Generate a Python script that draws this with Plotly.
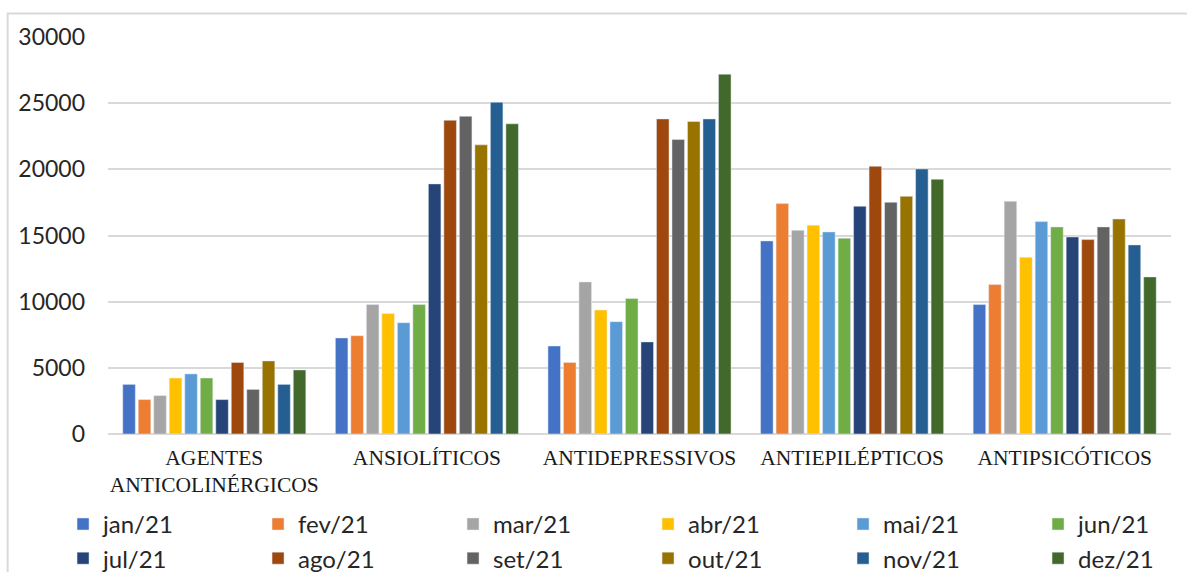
import plotly.graph_objects as go

categories = ["AGENTES<br>ANTICOLINÉRGICOS", "ANSIOLÍTICOS", "ANTIDEPRESSIVOS",
              "ANTIEPILÉPTICOS", "ANTIPSICÓTICOS"]
months = ["jan/21", "fev/21", "mar/21", "abr/21", "mai/21", "jun/21",
          "jul/21", "ago/21", "set/21", "out/21", "nov/21", "dez/21"]
colors = ["#4472C4", "#ED7D31", "#A5A5A5", "#FFC000", "#5B9BD5", "#70AD47",
          "#264478", "#9E480E", "#636363", "#997300", "#255E91", "#43682B"]

# values per month, in category order
jan = [3750, 7260, 6650, 14590, 9780]
fev = [2600, 7430, 5410, 17410, 11290]
mar = [2900, 9780, 11490, 15390, 17590]
abr = [4230, 9100, 9370, 15770, 13350]
mai = [4540, 8410, 8490, 15270, 16050]
jun = [4230, 9780, 10230, 14790, 15650]
jul = [2600, 18900, 6960, 17210, 14890]
ago = [5410, 23710, 23810, 20230, 14690]
set_ = [3370, 24010, 22250, 17510, 15650]
out = [5520, 21850, 23610, 17960, 16250]
nov = [3750, 25070, 23810, 20030, 14290]
dez = [4840, 23440, 27190, 19250, 11870]

series = [jan, fev, mar, abr, mai, jun, jul, ago, set_, out, nov, dez]

fig = go.Figure()
for name, vals, col in zip(months, series, colors):
    fig.add_trace(go.Bar(x=categories, y=vals, name=name, marker_color=col))

fig.update_layout(
    width=1187, height=572,
    paper_bgcolor="white", plot_bgcolor="white",
    margin=dict(l=108, r=16, t=37, b=138, autoexpand=False),
    barmode="group", bargap=0.125, bargroupgap=0.19,
    font=dict(family="Lato", color="#404040"),
    showlegend=True,
    legend=dict(orientation="h", x=-0.0423, xanchor="left",
                y=-0.171, yanchor="top",
                entrywidth=150, entrywidthmode="pixels", tracegroupgap=0,
                font=dict(family="Lato", size=24, color="#262626"),
                itemwidth=30, traceorder="normal"),
    shapes=[dict(type="rect", xref="paper", yref="paper",
                 x0=-0.0944, x1=1.03, y0=-0.4, y1=1.0592,
                 line=dict(color="#d9d9d9", width=2), fillcolor="rgba(0,0,0,0)",
                 layer="below")],
)
fig.update_yaxes(range=[0, 30000], dtick=5000, tickformat="d", showgrid=True,
                 gridcolor="#d9d9d9", gridwidth=2, zeroline=True,
                 zerolinecolor="#d9d9d9", zerolinewidth=2,
                 showline=False, ticks="", ticklabelstandoff=22,
                 tickfont=dict(family="Lato", size=23, color="#262626"))
fig.update_xaxes(showline=False, ticks="", ticklabelstandoff=8,
                 tickfont=dict(family="Liberation Serif", size=21.5, color="#1a1a1a"))

fig.write_html("out.html")
